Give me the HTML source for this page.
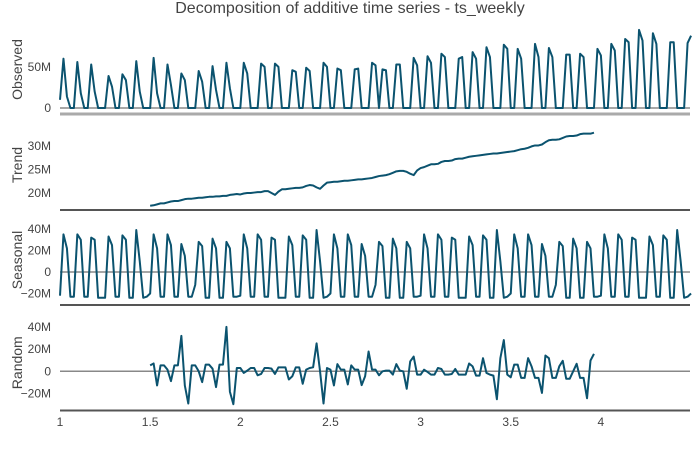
<!DOCTYPE html>
<html><head><meta charset="utf-8">
<style>
html,body{margin:0;padding:0;background:#fff;}
svg{display:block;font-family:"Liberation Sans","DejaVu Sans",sans-serif;}
.tick{font-size:12px;fill:#444;}
.ytitle{font-size:14px;fill:#444;}
</style></head>
<body>
<svg id="chart" width="700" height="450" viewBox="0 0 700 450">
<text x="350" y="13" text-anchor="middle" font-size="16" fill="#444">Decomposition of additive time series - ts_weekly</text>
<g id="panels"></g>
</svg>
<script>
const xTicks = [1, 1.5, 2, 2.5, 3, 3.5, 4];
const xTickLabels = ["1", "1.5", "2", "2.5", "3", "3.5", "4"];
const observedStartWeek = 0;
const observed = [10,
60,14,0,0, 56,18,0,0, 53,20,0,0,0, 39,26,0,0, 41,34,0,0, 57,20,0,0,0, 61,18,0,0, 53,28,0,0,
42,34,0,0,0, 45,32,0,0, 51,22,0,0, 55,24,0,0,0, 55,42,0,0,0, 54,50,0,0, 54,50,0,0,0,
46,44,0,0, 49,45,0,0,0, 55,50,0,0, 48,46,0,0,0, 47,48,0,0,0, 55,52,0, 47,46,0,0,
53,53,0,0,0, 61,52,0,0, 63,55,0,0, 66,62,0,0,0, 60,62,0,0, 68,60,0,0, 74,62,0,0,0,
77,72,0,0, 72,60,0,0,0, 78,62,0,0, 73,62,0,0,0, 65,65,0,0, 66,62,0,0,0, 72,64,0,0,
78,70,0,0, 84,80,0,0, 95,82,0,0, 91,78,0,0,0, 80,80,0,0,0, 79,88];
const trendStartWeek = 26;
const trend = [17.3,17.4,17.6,17.8,17.8,18.0,18.2,18.3,18.3,18.5,18.7,18.8,18.8,18.9,19.0,19.0,19.1,19.2,19.2,19.3,19.3,19.4,19.4,19.6,19.7,19.8,19.7,19.9,20.0,20.0,20.1,20.2,20.2,20.4,20.4,20.0,19.6,20.3,20.8,20.8,20.9,21.0,21.1,21.1,21.2,21.5,21.7,21.6,21.2,20.9,21.6,22.2,22.3,22.4,22.4,22.5,22.6,22.6,22.7,22.8,22.9,22.9,23.0,23.1,23.2,23.4,23.6,23.7,23.8,24.0,24.3,24.6,24.7,24.7,24.5,24.1,23.8,24.8,25.3,25.5,25.8,26.1,26.1,26.2,26.6,26.8,26.8,26.9,27.2,27.3,27.3,27.5,27.7,27.8,27.9,28.0,28.1,28.2,28.3,28.4,28.4,28.5,28.6,28.7,28.8,28.9,29.1,29.3,29.4,29.6,29.9,30.1,30.1,30.3,30.8,31.2,31.3,31.3,31.4,31.7,32.0,32.1,32.1,32.2,32.5,32.6,32.6,32.6,32.8];
const seasonalYear = [-22,
35,22,-23,-23, 35,30,-23,-23, 32,30,-24,-24,-24, 33,25,-23,-23, 34,30,-24,-24,
39,10,-24,-23,-20, 35,22,-23,-23, 35,25,-23,-23, 26,15,-23,-23,-12, 28,24,-24,-24,
31,22,-24,-24, 28,22,-23,-23];
const randomStartWeek = 26;
const random = [5.4,7.1,-12.8,5.4,5.4,1.5,-8.9,5.4,5.4,32.1,
-12.8,-29.2,5.4,5.4,0,-9.8,6,6,2.4,-14.3,
6,6,40.2,-18.5,-29.8,3,3,-1.5,0.6,3,
3,-3.6,-2.4,3,3,2.4,-2.4,3.6,3.6,3.6,
-7.4,-4.5,3.6,3.6,-11.3,1.5,3,3.6,25.3,0,
-29.2,3,1.5,-12.8,6.5,1.5,1.5,-11.9,5.4,1.5,
1.5,-12.5,-4.5,17.9,1.5,1.5,-3.6,0,0.6,0.6,
-3,6.5,0.6,0,-15.8,8.9,13.4,-3,-3,1.5,
-0.6,-3,-3,3,2.1,-3,-3,-2.4,2.1,-3,
-3,-3,7.1,4.5,-3.9,-3.9,11.9,-1.5,-3,-3.9,
-25.3,11.9,28.3,-3,-5.4,6,6,-6,-6,11.9,
4.5,-6,-6,-19.6,14.3,11.9,-6,-6,4.5,9.5,
-6.8,-6.8,0,6.8,-6,-6,-24.4,9.8,15.8];
const obsTicks = [0, 50];
const obsTickLabels = ["0", "50M"];
const trendTicks = [20, 25, 30];
const trendTickLabels = ["20M", "25M", "30M"];
const seasTicks = [-20, 0, 20, 40];
const seasTickLabels = ["−20M", "0", "20M", "40M"];
const randTicks = [-20, 0, 20, 40];
const randTickLabels = ["−20M", "0", "20M", "40M"];

const NS = "http://www.w3.org/2000/svg";
const X0 = 60, X1 = 690;
function xScale(t){ return X0 + (t - 1) * 180.3; }
function weekToT(w){ return 1 + w / 52; }
function mk(tag, attrs, parent){
  const e = document.createElementNS(NS, tag);
  for (const k in attrs) e.setAttribute(k, attrs[k]);
  parent.appendChild(e);
  return e;
}
const root = document.getElementById("panels");

function panel(name, title, top, bottom, ymin, ymax, ticks, labels, series, startWeek, zero, axisColor){
  const g = mk("g", {}, root);
  
  
  const ys = v => bottom - (v - ymin) / (ymax - ymin) * (bottom - top);
  ticks.forEach((v, i) => {
    const t = mk("text", {x: 51, y: ys(v) + 4, "text-anchor": "end", class: "tick"}, g);
    t.textContent = labels[i];
    
    
  });
  const cy = (top + bottom) / 2;
  const tt = mk("text", {x: 22, y: cy, "text-anchor": "middle", class: "ytitle", transform: "rotate(-90 22 " + cy + ")"}, g);
  tt.textContent = title;
  
  
  if (zero) {
    const z = mk("line", {x1: X0, x2: X1, y1: ys(0), y2: ys(0), stroke: "#888", "stroke-width": 1.5}, g);
    
    
  }
  const ax = mk("line", {x1: X0, x2: X1, y1: bottom, y2: bottom, stroke: axisColor, "stroke-width": axisColor === "#aaa" ? 3 : 2}, g);
  
  
  const pts = series.map((v, i) => xScale(weekToT(startWeek + i)).toFixed(2) + "," + ys(v).toFixed(2));
  const pl = mk("polyline", {points: pts.join(" "), fill: "none", stroke: "#0b536f", "stroke-width": 2, "stroke-linejoin": "round"}, g);
  
  
}

const seasonal = [];
for (let w = 0; w < observed.length; w++) seasonal.push(seasonalYear[w % 52]);

panel("observed", "Observed", 25, 114, -7.3, 101, obsTicks, obsTickLabels, observed, observedStartWeek, true, "#aaa");
panel("trend", "Trend", 120, 210, 16.4, 35.5, trendTicks, trendTickLabels, trend, trendStartWeek, false, "#555");
panel("seasonal", "Seasonal", 215, 305, -30.7, 53, seasTicks, seasTickLabels, seasonal, 0, true, "#555");
panel("random", "Random", 315, 410.5, -35.5, 51, randTicks, randTickLabels, random, randomStartWeek, true, "#555");

xTicks.forEach((t, i) => {
  const e = mk("text", {x: xScale(t), y: 426, "text-anchor": "middle", class: "tick"}, root);
  e.textContent = xTickLabels[i];
  
  
});
</script>
</body></html>
